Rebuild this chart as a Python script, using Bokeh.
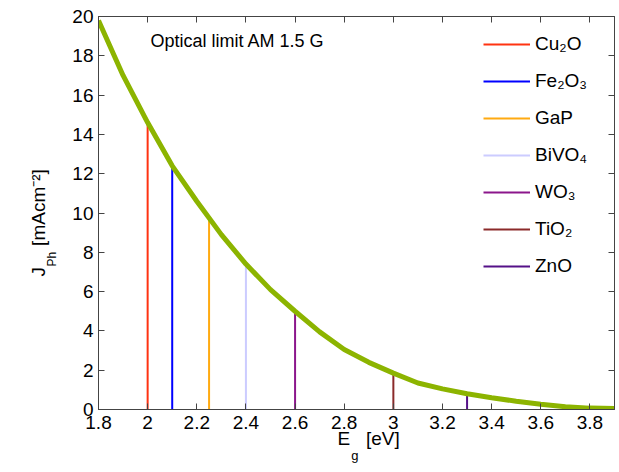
import math
from bokeh.plotting import figure
from bokeh.models import Range1d, LinearAxis, FixedTicker, Label, Legend, LegendItem, Title
from bokeh.embed import file_html
from bokeh.resources import INLINE

# ---- data ----
eg = [1.8, 1.9, 2.0, 2.1, 2.2, 2.3, 2.4, 2.5, 2.6, 2.7, 2.8,
      2.9, 3.0, 3.1, 3.2, 3.3, 3.4, 3.5, 3.6, 3.7, 3.8, 3.9]
jph = [19.8, 17.0, 14.6, 12.4, 10.6, 8.9, 7.4, 6.1, 5.0, 3.95, 3.05,
       2.4, 1.85, 1.35, 1.05, 0.8, 0.6, 0.42, 0.27, 0.14, 0.07, 0.05]

materials = ["Cu\u2082O", "Fe\u2082O\u2083", "GaP", "BiVO\u2084", "WO\u2083", "TiO\u2082", "ZnO"]
mat_eg = [2.0, 2.1, 2.25, 2.4, 2.6, 3.0, 3.3]
mat_j = [14.5, 12.3, 9.7, 7.4, 5.0, 1.8, 0.8]
mat_colors = ["#ff3311", "#0000ff", "#ffaa11", "#ccccff", "#8b168b", "#8b2a2a", "#551188"]

x_ticks = [1.8, 2.0, 2.2, 2.4, 2.6, 2.8, 3.0, 3.2, 3.4, 3.6, 3.8]
x_tick_labels = ["1.8", "2", "2.2", "2.4", "2.6", "2.8", "3", "3.2", "3.4", "3.6", "3.8"]
y_ticks = [0, 2, 4, 6, 8, 10, 12, 14, 16, 18, 20]
y_tick_labels = [str(v) for v in y_ticks]

title_text = "Optical limit AM 1.5 G"

FONT = "Liberation Sans"
AXIS_COLOR = "#444444"
NB = "\u00a0"

W, H = 617, 472
BL, BR, BT, BB = 98, 3, 16, 63

p = figure(width=W, height=H, output_backend="svg", toolbar_location=None,
           x_range=Range1d(1.8, 3.9), y_range=Range1d(0, 20),
           min_border_left=BL, min_border_right=BR, min_border_top=BT, min_border_bottom=BB)
p.background_fill_color = "white"
p.border_fill_color = "white"
p.outline_line_color = AXIS_COLOR
p.xgrid.visible = False
p.ygrid.visible = False

# ---- glyphs ----
items = []
for name, x, y, c in zip(materials, mat_eg, mat_j, mat_colors):
    r = p.segment(x0=[x], y0=[0], x1=[x], y1=[y], line_color=c, line_width=2)
    items.append(LegendItem(label=name, renderers=[r]))

p.line(eg, jph, line_color="#8cb400", line_width=5)

# ---- axes ----
def style_axis(ax, ticks, labels, show_labels=True):
    ax.ticker = FixedTicker(ticks=ticks)
    ax.major_tick_in = 6
    ax.major_tick_out = 0
    ax.minor_tick_line_color = None
    ax.axis_line_color = AXIS_COLOR
    ax.major_tick_line_color = AXIS_COLOR
    ax.major_label_text_font = FONT
    ax.major_label_text_color = "black"
    if show_labels:
        ax.major_label_overrides = dict(zip(ticks, labels))
        ax.major_label_text_font_size = "19px"
    else:
        ax.major_label_overrides = {t: "" for t in ticks}
        ax.major_label_text_font_size = "0px"
        ax.major_label_standoff = 0

xax = p.xaxis[0]
style_axis(xax, x_ticks, x_tick_labels)
xax.major_label_standoff = 6
yax = p.yaxis[0]
style_axis(yax, y_ticks, y_tick_labels)
yax.major_label_standoff = 5

top = LinearAxis()
style_axis(top, x_ticks, x_tick_labels, show_labels=False)
p.add_layout(top, "above")
right = LinearAxis()
style_axis(right, y_ticks, y_tick_labels, show_labels=False)
p.add_layout(right, "right")

def title(text, size, offset, valign, standoff):
    return Title(text=text, align="left", offset=offset, vertical_align=valign,
                 standoff=standoff, text_font=FONT, text_font_size=f"{size}px",
                 text_font_style="normal", text_color="black")

# Arial / Liberation Sans advance widths (em)
ADV = {"E": 0.667, "J": 0.5}

# ---- x-axis label: E_g [eV] ----
X_SIZE = 19
x_start = 239  # px from the frame's left edge
p.add_layout(title("E" + NB * 3 + "[eV]", X_SIZE, x_start, "bottom", -12), "below")
p.add_layout(title("g", 13, x_start + ADV["E"] * X_SIZE + 1, "bottom", 7), "below")

# ---- y-axis label: J_Ph [mAcm^-2] ----
spacer = LinearAxis(ticker=FixedTicker(ticks=[0]), major_tick_out=11, major_tick_in=0,
                    minor_tick_out=0, minor_tick_in=0,
                    major_tick_line_color="white", minor_tick_line_color=None,
                    axis_line_color=None, major_label_text_font_size="0px",
                    major_label_overrides={0: ""}, major_label_standoff=0)
p.add_layout(spacer, "left")

Y_SIZE = 19
y_start = 409 - 276  # px from the frame's bottom edge
p.add_layout(title("Ph", 12, y_start + ADV["J"] * Y_SIZE + 0.5, "bottom", 0), "left")
p.add_layout(title("J" + NB * 4 + "[mAcm\u207b\u00b2]", Y_SIZE, y_start, "bottom", -12), "left")

# ---- legend ----
legend = Legend(items=items, location=(385, 131), orientation="vertical",
                glyph_width=47, glyph_height=24, label_height=24, spacing=13,
                padding=0, margin=0, label_standoff=5,
                border_line_color=None, background_fill_alpha=0,
                label_text_font=FONT, label_text_font_size="19px",
                label_text_color="black")
p.add_layout(legend)

# ---- inner title text ----
p.add_layout(Label(x=1.8, y=20, x_offset=52, y_offset=-24, text=title_text,
                   text_font=FONT, text_font_size="18px", text_align="left",
                   text_baseline="alphabetic", text_color="black"))

open("out.html", "w").write(file_html(p, INLINE))
